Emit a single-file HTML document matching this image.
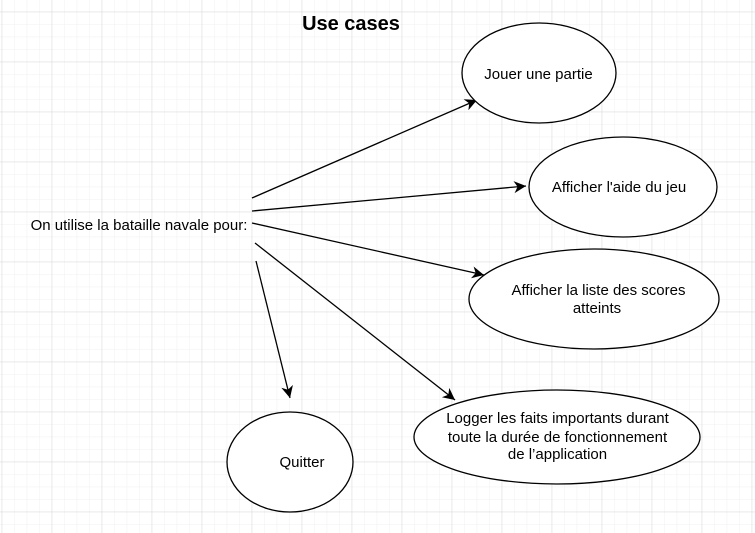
<!DOCTYPE html>
<html><head><style>body{margin:0;background:#fff}svg{display:block}</style></head><body>
<svg width="755" height="533" xmlns="http://www.w3.org/2000/svg" font-family="Liberation Sans, Arial, sans-serif">
<defs>
<pattern id="minor" x="1.7" y="11.7" width="12.5" height="12.5" patternUnits="userSpaceOnUse"><path d="M0 0H12.5M0 0V12.5" stroke="#f0f0f0" stroke-width="1" fill="none"/></pattern>
<pattern id="major" x="1.7" y="11.7" width="50" height="50" patternUnits="userSpaceOnUse"><path d="M0 0H50M0 0V50" stroke="#d8d8d8" stroke-width="1" fill="none"/></pattern>
<marker id="a" markerWidth="14" markerHeight="14" refX="12" refY="6" orient="auto" markerUnits="userSpaceOnUse"><path d="M0 0L12 6L0 12L3.5 6Z" fill="#000"/></marker>
</defs>
<rect width="755" height="533" fill="url(#minor)"/>
<rect width="755" height="533" fill="url(#major)"/>
<text x="351" y="30" font-size="20" font-weight="bold" text-anchor="middle">Use cases</text>
<g stroke="#000" stroke-width="1.3" fill="none" marker-end="url(#a)">
<line x1="252" y1="198" x2="477" y2="100"/>
<line x1="252" y1="211" x2="526" y2="186"/>
<line x1="252" y1="223" x2="484" y2="275"/>
<line x1="255" y1="243" x2="455" y2="400"/>
<line x1="256" y1="261" x2="290" y2="398"/>
</g>
<g stroke="#000" stroke-width="1.3" fill="#fff">
<ellipse cx="539" cy="73" rx="77" ry="50"/>
<ellipse cx="623" cy="187" rx="94" ry="50"/>
<ellipse cx="594" cy="299" rx="125" ry="50"/>
<ellipse cx="557" cy="437" rx="143" ry="47"/>
<ellipse cx="290" cy="462" rx="63" ry="50"/>
</g>
<g font-size="15" fill="#000" text-anchor="middle">
<text x="538.5" y="79">Jouer une partie</text>
<text x="619" y="192">Afficher l'aide du jeu</text>
<text x="598.5" y="295">Afficher la liste des scores</text>
<text x="597" y="313">atteints</text>
<text x="557.5" y="423">Logger les faits importants durant</text>
<text x="557.5" y="442">toute la durée de fonctionnement</text>
<text x="557.5" y="459">de l’application</text>
<text x="302" y="467">Quitter</text>
<text x="139" y="230">On utilise la bataille navale pour:</text>
</g>
</svg>
</body></html>
